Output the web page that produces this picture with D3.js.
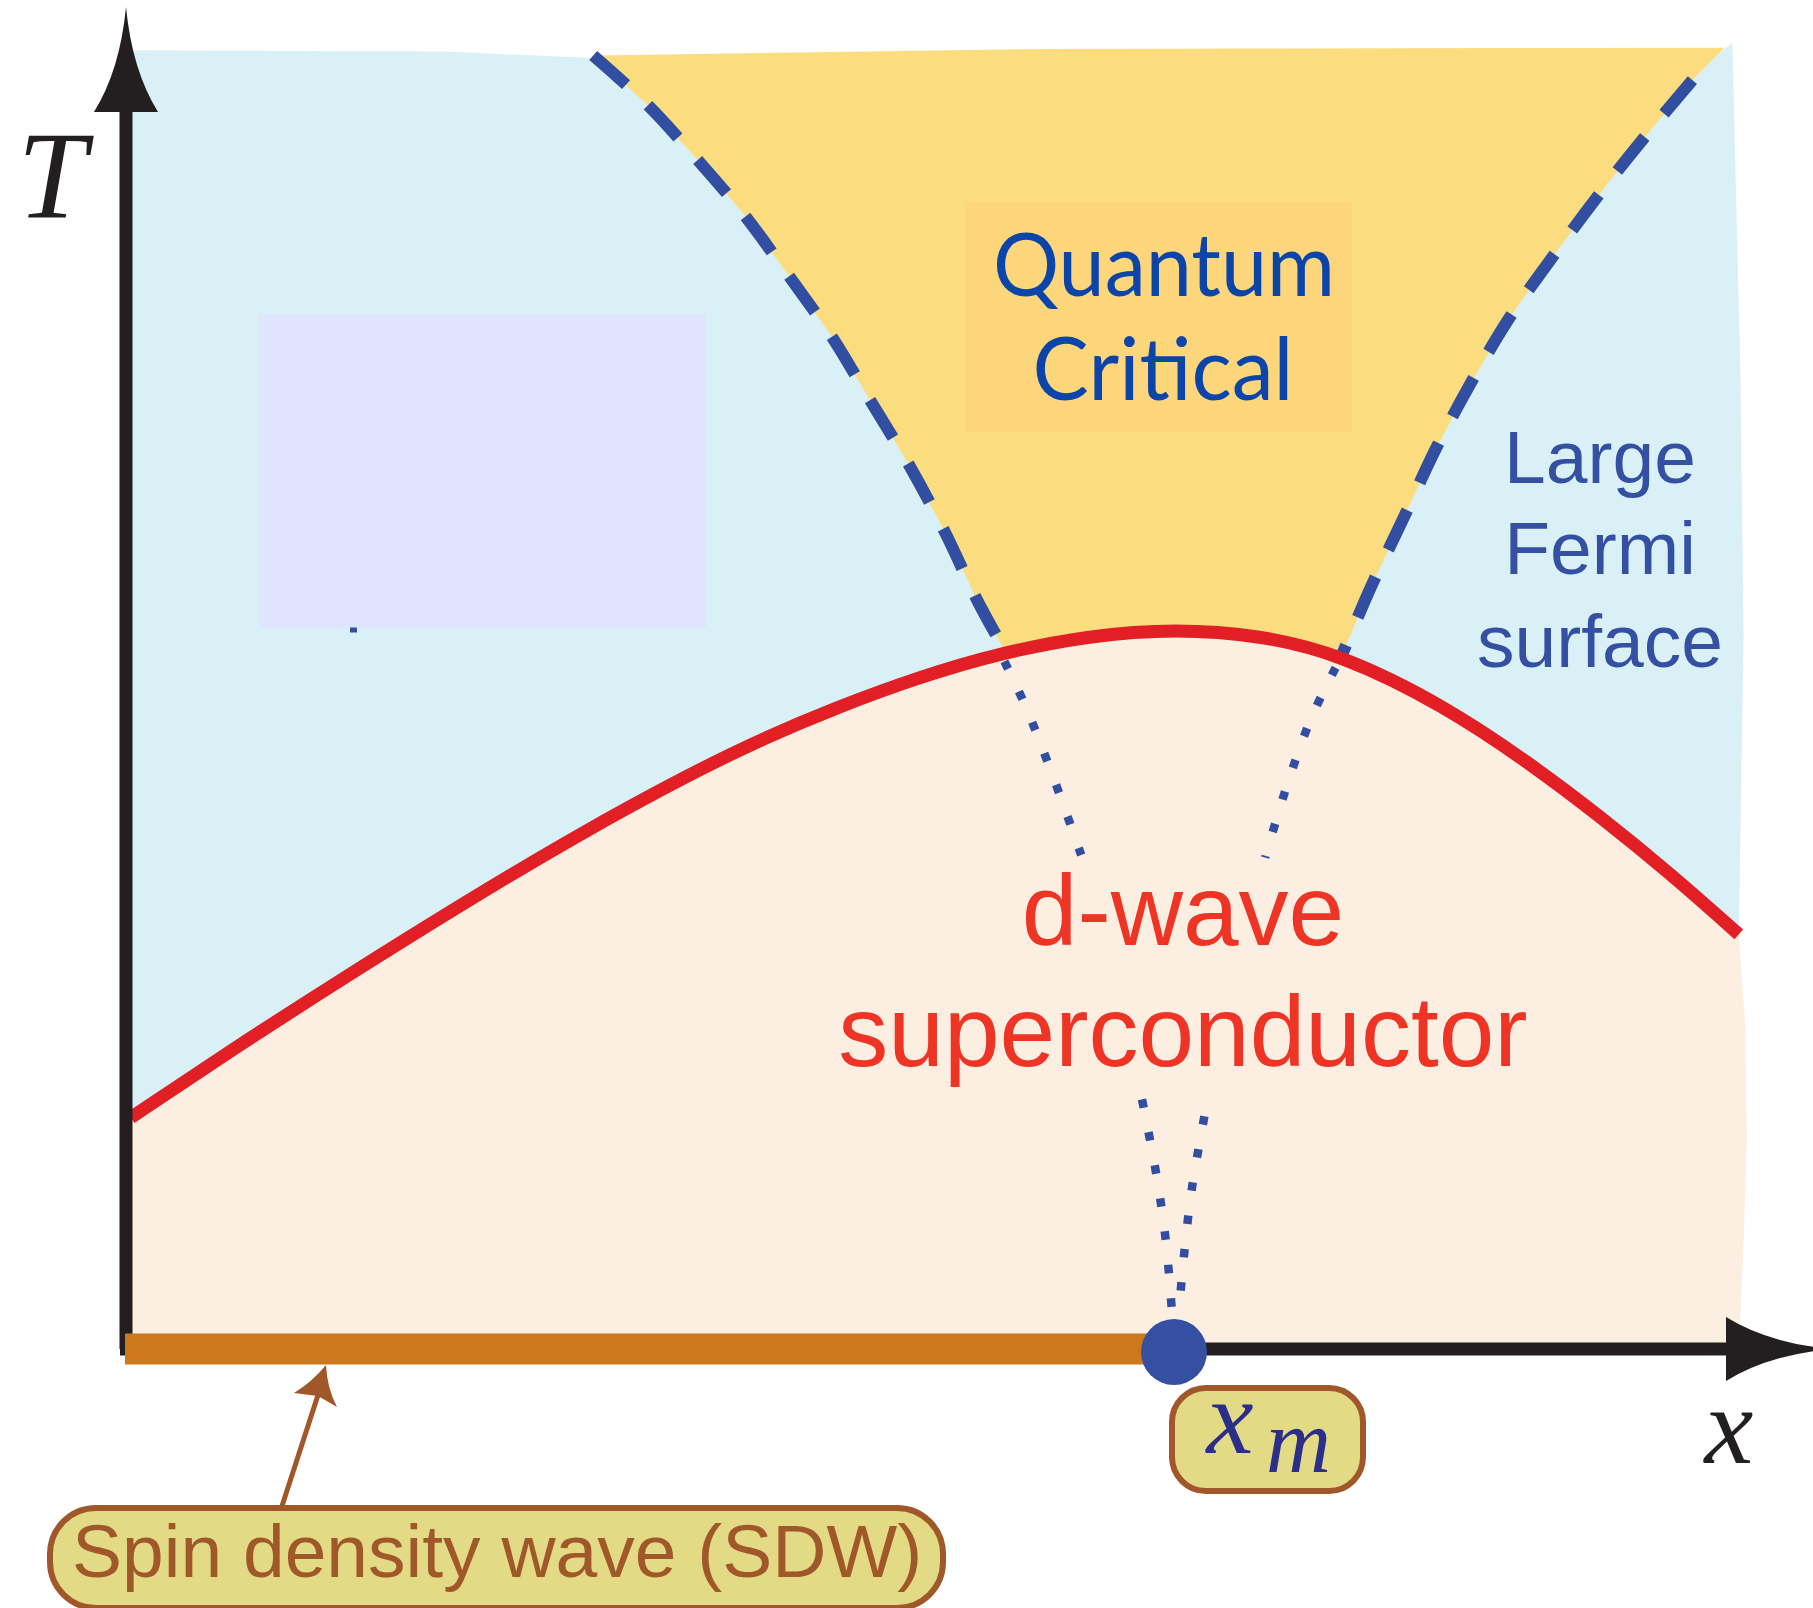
<!DOCTYPE html>
<html>
<head>
<meta charset="utf-8">
<title>Phase diagram: SDW, quantum critical, d-wave</title>
<script src="https://d3js.org/d3.v7.min.js"></script>
<style>
  html, body { margin: 0; padding: 0; background: #fff; }
  svg { display: block; }
</style>
</head>
<body>
<svg width="1813" height="1608"></svg>
<script>
// doping x and temperature T, arbitrary units 0..100
const xm = 65.5;

// superconducting dome Tc(x)
const tcX = [0.3, 6.6, 13.8, 21.1, 28.3, 35.5, 39.9, 44.3, 49.6, 54.5, 60.3, 65.6, 70.9, 75.8, 82.4, 87.8, 92.1, 96.5, 100.8];
const tcT = [17.8, 23.0, 28.7, 34.3, 39.6, 44.4, 47.0, 49.3, 51.7, 53.5, 54.9, 55.4, 54.9, 53.5, 49.5, 45.0, 41.0, 36.6, 31.9];

// crossover lines bounding the quantum critical fan (dashed, above Tc)
const leftX  = [29.2, 32.6, 35.7, 38.6, 41.4, 44.1, 46.5, 48.9, 51.2, 53.2, 54.8];
const leftT  = [99.5, 95.7, 91.5, 87.3, 82.6, 77.9, 73.0, 68.1, 62.8, 57.6, 54.0];
const rightX = [97.9, 94.9, 92.0, 89.1, 86.4, 84.0, 81.8, 79.8, 77.8, 76.0];
const rightT = [97.6, 93.2, 88.7, 83.9, 79.2, 74.2, 69.1, 63.8, 58.6, 53.4];

// their continuation under the dome (dotted)
const leftDotX  = [54.9, 56.2, 57.8, 59.7];
const leftDotT  = [52.9, 49.5, 44.5, 38.0];
const rightDotX = [75.6, 74.1, 72.6, 71.2];
const rightDotT = [52.4, 48.6, 43.5, 37.8];
const xmDotLX = [63.5, 64.4, 65.0, 65.4];
const xmDotLT = [19.2, 13.4, 8.2, 2.4];
const xmDotRX = [67.4, 66.6, 66.1, 65.9];
const xmDotRT = [17.9, 12.2, 6.9, 4.2];

// region outlines
const blueX = [0.3, 20.0, 29.2, 57.0, 99.5, 100.4, 100.9, 101.1, 100.8, 0.3];
const blueT = [99.9, 99.8, 99.3, 99.3, 99.6, 100.5, 75.0, 55.0, 31.9, 17.8];
const fanTopX = [29.2, 57.1, 99.9];
const fanTopT = [99.5, 100.0, 100.1];
const pinkEdgeX = [101.2, 101.3, 101.1, 100.8, 0.3];
const pinkEdgeT = [25.0, 16.0, 8.0, 0, 0];
const maskX = [8.3, 36.25];
const maskT = [79.6, 55.5];

const svg = d3.select("svg");

const x = d3.scaleLinear().domain([0, 100]).range([126, 1726]);
const y = d3.scaleLinear().domain([0, 100]).range([1349, 49]);

const pts = (xs, ts) => xs.map((v, i) => [x(v), y(ts[i])]);
const smooth = d3.line().curve(d3.curveCatmullRom.alpha(0.5));
const dome = d3.line().curve(d3.curveBasis);
const straight = d3.line();

const tcPts = pts(tcX, tcT);
const leftPts = pts(leftX, leftT);
const rightPts = pts(rightX, rightT);

// light blue background
svg.append("path")
  .attr("d", straight(pts(blueX, blueT)) + "Z")
  .attr("fill", "#daf0f7");

// quantum critical fan
const fanTop = pts(fanTopX, fanTopT);
const domeTop = tcPts.filter(p => p[0] > x(leftX[leftX.length - 1]) && p[0] < x(rightX[rightX.length - 1])).reverse();
const fanPts = [fanTop[2]].concat(rightPts, domeTop, leftPts.slice().reverse(), [fanTop[1]]);
svg.append("path")
  .attr("d", straight(fanPts) + "Z")
  .attr("fill", "#fbdd80");

svg.append("rect")
  .attr("x", 965).attr("y", 202)
  .attr("width", 387).attr("height", 230)
  .attr("fill", "#fdd67c");

// superconducting region
svg.append("path")
  .attr("d", dome(tcPts) + straight(pts(pinkEdgeX, pinkEdgeT)).replace("M", "L") + "Z")
  .attr("fill", "#fdeee2");

// pale patch on the left
svg.append("rect")
  .attr("x", x(maskX[0])).attr("y", y(maskT[0]))
  .attr("width", x(maskX[1]) - x(maskX[0]))
  .attr("height", y(maskT[1]) - y(maskT[0]))
  .attr("fill", "#e0e4fc");
svg.append("rect")
  .attr("x", x(14.0)).attr("y", y(maskT[1]))
  .attr("width", 7).attr("height", 5)
  .attr("fill", "#3050a0");

// crossover lines
const lineBlue = "#314ea0";
[leftPts, rightPts].forEach(p => {
  svg.append("path")
    .attr("d", smooth(p))
    .attr("fill", "none")
    .attr("stroke", lineBlue)
    .attr("stroke-width", 12)
    .attr("stroke-dasharray", "44 30");
});
[[leftDotX, leftDotT], [rightDotX, rightDotT], [xmDotLX, xmDotLT], [xmDotRX, xmDotRT]].forEach(([a, b]) => {
  svg.append("path")
    .attr("d", smooth(pts(a, b)))
    .attr("fill", "none")
    .attr("stroke", lineBlue)
    .attr("stroke-width", 8.5)
    .attr("stroke-dasharray", "8.5 25");
});

// Tc line
svg.append("path")
  .attr("d", dome(tcPts))
  .attr("fill", "none")
  .attr("stroke", "#e31f26")
  .attr("stroke-width", 13);

// region labels
svg.append("text")
  .attr("x", 1164).attr("y", 296)
  .attr("text-anchor", "middle")
  .attr("textLength", 342).attr("lengthAdjust", "spacingAndGlyphs")
  .style("font", "88px Lato").style("fill", "#0b45aa")
  .text("Quantum");
svg.append("text")
  .attr("x", 1163).attr("y", 400)
  .attr("text-anchor", "middle")
  .attr("textLength", 261).attr("lengthAdjust", "spacingAndGlyphs")
  .style("font", "88px Lato").style("fill", "#0b45aa")
  .text("Critical");

[["Large", 483], ["Fermi", 574], ["surface", 667]].forEach(([t, by]) => {
  svg.append("text")
    .attr("x", 1600).attr("y", by)
    .attr("text-anchor", "middle")
    .style("font", "75px 'Liberation Sans'").style("fill", "#3450a3")
    .text(t);
});

[["d-wave", 945], ["superconductor", 1066]].forEach(([t, by]) => {
  svg.append("text")
    .attr("x", 1183).attr("y", by)
    .attr("text-anchor", "middle")
    .style("font", "100px 'Liberation Sans'").style("fill", "#ee3424")
    .text(t);
});

// axes
const ink = "#231f20";
svg.append("line")
  .attr("x1", x(0)).attr("y1", y(0))
  .attr("x2", x(0)).attr("y2", 112)
  .attr("stroke", ink).attr("stroke-width", 13);
svg.append("line")
  .attr("x1", x(0) - 6).attr("y1", y(0))
  .attr("x2", x(100)).attr("y2", y(0))
  .attr("stroke", ink).attr("stroke-width", 13);

const ax = x(0), ay = y(0), bx = x(100);
svg.append("path")
  .attr("d", `M${ax},7 Q${ax + 6},70 ${ax + 32},112 L${ax - 32},112 Q${ax - 6},70 ${ax},7 Z`)
  .attr("fill", ink);
svg.append("path")
  .attr("d", `M${bx + 105},${ay} Q${bx + 42},${ay - 6} ${bx},${ay - 32} L${bx},${ay + 32} Q${bx + 42},${ay + 6} ${bx + 105},${ay} Z`)
  .attr("fill", ink);

// SDW range on the axis and the critical point
svg.append("rect")
  .attr("x", x(0) - 1).attr("y", y(0) - 15.5)
  .attr("width", x(xm) - x(0)).attr("height", 31)
  .attr("fill", "#ce781e");
svg.append("circle")
  .attr("cx", x(xm)).attr("cy", y(0) + 3)
  .attr("r", 33)
  .attr("fill", "#3550a0");

// axis labels
svg.append("text")
  .attr("x", 52).attr("y", 218)
  .attr("text-anchor", "middle")
  .style("font", "italic 124px 'Liberation Serif'").style("fill", ink)
  .text("T");
svg.append("text")
  .attr("x", 1729).attr("y", 1463)
  .attr("text-anchor", "middle")
  .style("font", "italic 110px 'Liberation Serif'").style("fill", ink)
  .text("x");

// callouts
const brown = "#a0582a", boxFill = "#e3da86";
svg.append("rect")
  .attr("x", 1172).attr("y", 1388)
  .attr("width", 191).attr("height", 103)
  .attr("rx", 34)
  .attr("fill", boxFill).attr("stroke", brown).attr("stroke-width", 6);
svg.append("text")
  .attr("x", 1230).attr("y", 1453)
  .attr("text-anchor", "middle")
  .style("font", "italic 106px 'Liberation Serif'").style("fill", "#2b2f8a")
  .text("x");
svg.append("text")
  .attr("x", 1266).attr("y", 1472)
  .style("font", "italic 90px 'Liberation Serif'").style("fill", "#2b2f8a")
  .text("m");

svg.append("line")
  .attr("x1", 282).attr("y1", 1506)
  .attr("x2", 318).attr("y2", 1395)
  .attr("stroke", brown).attr("stroke-width", 5);
svg.append("path")
  .attr("d", "M326,1365 Q327,1388 337,1407 L318,1396 L294,1393 Q312,1382 326,1365 Z")
  .attr("fill", brown);

svg.append("rect")
  .attr("x", 50).attr("y", 1508)
  .attr("width", 893).attr("height", 100)
  .attr("rx", 46)
  .attr("fill", boxFill).attr("stroke", brown).attr("stroke-width", 6);
svg.append("text")
  .attr("x", 72).attr("y", 1577)
  .style("font", "75px 'Liberation Sans'").style("fill", brown)
  .text("Spin density wave (SDW)");
</script>
</body>
</html>
